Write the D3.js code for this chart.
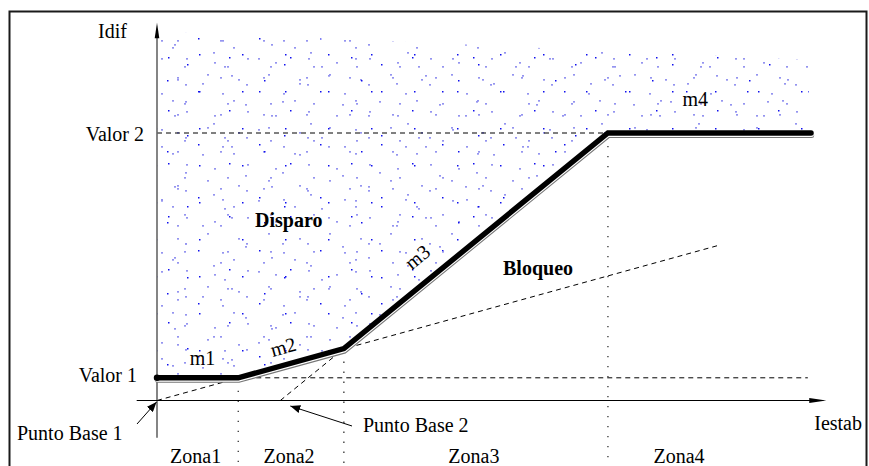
<!DOCTYPE html>
<html>
<head>
<meta charset="utf-8">
<script src="https://cdn.jsdelivr.net/npm/d3@7"></script>
<style>
  body { margin: 0; background: #fff; }
  svg { display: block; }
  text { font-family: "Liberation Serif", "DejaVu Serif", serif; font-size: 20px; fill: #000; }
  .bold { font-weight: bold; }
</style>
</head>
<body>
<svg id="chart" width="869" height="466" font-family="Liberation Serif, DejaVu Serif, serif"></svg>
<script>
// Differential relay characteristic (per-unit values)
const breakX = [0, 1.0, 2.3, 5.55, 8.05];      // Iestab at each breakpoint
const breakY = [0.28, 0.28, 0.64, 3.3, 3.3];    // Idif at each breakpoint
const zoneLabels = ["Zona1", "Zona2", "Zona3", "Zona4"];
const slopeLabels = ["m1", "m2", "m3", "m4"];
const levelLabels = ["Valor 1", "Valor 2"];
const levelValues = [0.28, 3.3];
const baseLabels = ["Punto Base 1", "Punto Base 2"];
const regionLabels = ["Disparo", "Bloqueo"];

const svg = d3.select("#chart");
const x = d3.scaleLinear().domain([0, 8]).range([157, 807]);
const y = d3.scaleLinear().domain([0, 3.3]).range([400.5, 133]);

// ---------- defs: stipple texture (three overlapping tiles of coprime size) + arrow heads ----------
const defs = svg.append("defs");
const tileA = [[3,5,1],[31,9,1],[46,4,0],[24,21,1],[55,26,1],[2,31,1],[15,38,0],[39,40,1],[50,47,1]];
const tileB = [[5,3,1],[27,17,0],[12,29,1]];
const tileC = [[8,12,1],[37,4,1],[70,9,0],[88,30,1],[51,33,1],[19,52,1],[64,58,1],[90,64,0],[30,66,1],[77,44,1]];
function makePattern(id, w, h, dots) {
  const p = defs.append("pattern").attr("id", id).attr("patternUnits", "userSpaceOnUse")
    .attr("width", w).attr("height", h);
  p.selectAll("rect").data(dots).join("rect")
    .attr("x", d => d[0]).attr("y", d => d[1])
    .attr("width", d => d[2] ? 2 : 1.5).attr("height", d => d[2] ? 1.7 : 1.5)
    .attr("fill", d => d[2] ? "#9494f0" : "#1010ee");
}
makePattern("stipA", 61, 53, tileA);
makePattern("stipB", 43, 37, tileB);
makePattern("stipC", 97, 71, tileC);

defs.append("marker").attr("id", "head").attr("viewBox", "0 0 10 8")
  .attr("refX", 10).attr("refY", 4).attr("markerWidth", 10).attr("markerHeight", 8)
  .attr("markerUnits", "userSpaceOnUse").attr("orient", "auto")
  .append("path").attr("d", "M0,0 L10,4 L0,8 Z").attr("fill", "#000");

// ---------- outer frame ----------
svg.append("rect").attr("x", 9.5).attr("y", 11.5).attr("width", 857).attr("height", 480)
  .attr("fill", "none").attr("stroke", "#1a1a1a").attr("stroke-width", 2);

const pts = breakX.map((v, i) => [x(v), y(breakY[i])]);

// ---------- trip region stipple (above the characteristic) ----------
const topEdge = [[x(0) + 1, y(4.55)], [x(3.6), y(4.4)], [x(8.02), y(4.2)]];
const region = topEdge.concat([[x(8.02), y(breakY[4])]])
  .concat(pts.slice().reverse().map(p => [p[0], p[1] - 2]));
defs.append("clipPath").attr("id", "tripClip").append("path")
  .attr("d", d3.line()(region) + "Z");
const stip = svg.append("g").attr("clip-path", "url(#tripClip)");
["stipA", "stipB", "stipC"].forEach(id =>
  stip.append("rect").attr("x", 150).attr("y", 20).attr("width", 670).attr("height", 380)
    .attr("fill", `url(#${id})`));

// ---------- guide lines ----------
const dash = { stroke: "#000", "stroke-width": 1, "stroke-dasharray": "5,4", fill: "none" };
function guide(p0, p1, style) {
  const l = svg.append("line").attr("x1", p0[0]).attr("y1", p0[1]).attr("x2", p1[0]).attr("y2", p1[1]);
  Object.entries(style).forEach(([k, v]) => l.attr(k, v));
  return l;
}
// level lines
guide([x(0), y(levelValues[1])], [x(breakX[3]), y(levelValues[1])], dash);
guide([x(breakX[1]), y(levelValues[0])], [x(8.01), y(levelValues[0])], dash);
// slope m2 extended back to origin (Punto Base 1) and onwards
const m2 = (breakY[2] - breakY[1]) / (breakX[2] - breakX[1]);
guide([x(0), y(0)], [x(6.93), y(m2 * 6.93)], dash);
// slope m3 extended down to the Iestab axis (Punto Base 2)
const m3 = (breakY[3] - breakY[2]) / (breakX[3] - breakX[2]);
const base2 = breakX[2] - breakY[2] / m3;
guide([x(base2), y(0)], [x(breakX[2]), y(breakY[2])], dash);

// zone boundaries (dotted)
const dotted = { stroke: "#333", "stroke-width": 1.3, "stroke-dasharray": "1.3,8.7", fill: "none" };
[1, 2, 3].forEach(i => guide([x(breakX[i]), y(breakY[i]) + 3], [x(breakX[i]), 466], dotted));

// ---------- axes ----------
guide([x(0), y(-0.46)], [x(0), y(4.55)], { stroke: "#666", "stroke-width": 1.6 });
svg.append("path").attr("d", d3.line()([[x(0) - 2.3, y(4.47)], [x(0), y(4.66)], [x(0) + 2.3, y(4.47)]]) + "Z")
  .attr("fill", "#000");
guide([x(-0.25), y(0)], [x(8.2), y(0)], { stroke: "#000", "stroke-width": 1.2 });
svg.append("path").attr("d", d3.line()([[x(8.2) - 14, y(0) - 2.6], [x(8.2) + 3, y(0)], [x(8.2) - 14, y(0) + 2.6]]) + "Z")
  .attr("fill", "#000");

// ---------- characteristic curve (heavy line with offset shadow) ----------
const lineGen = d3.line();
svg.append("path").attr("d", lineGen(pts)).attr("transform", "translate(0.6,2.5)")
  .attr("fill", "none").attr("stroke", "#777").attr("stroke-width", 5)
  .attr("stroke-linecap", "round").attr("stroke-linejoin", "miter");
svg.append("path").attr("d", lineGen(pts)).attr("transform", "translate(0.3,1.4)")
  .attr("fill", "none").attr("stroke", "#fff").attr("stroke-width", 5)
  .attr("stroke-linecap", "round").attr("stroke-linejoin", "miter");
svg.append("path").attr("d", lineGen(pts))
  .attr("fill", "none").attr("stroke", "#000").attr("stroke-width", 5.4)
  .attr("stroke-linecap", "round").attr("stroke-linejoin", "miter");
svg.append("circle").attr("cx", pts[0][0]).attr("cy", pts[0][1]).attr("r", 3.2).attr("fill", "#000");

// ---------- text ----------
function txt(s, px, py, anchor, cls) {
  return svg.append("text").attr("x", px).attr("y", py).attr("text-anchor", anchor || "start")
    .attr("class", cls || null).text(s);
}
txt("Idif", x(0) - 59, 38);
txt(levelLabels[1], x(0) - 13, y(levelValues[1]) + 7.5, "end");
txt(levelLabels[0], x(0) - 20, y(levelValues[0]) + 4, "end");
txt("Iestab", 862, 430, "end");

// zone names centred in each zone
zoneLabels.forEach((s, i) => {
  const cx = i < 3 ? (breakX[i] + breakX[i + 1]) / 2 : breakX[3] + 0.9;
  txt(s, x(cx) - 2, 463, "middle");
});

// slope labels placed along each segment
function segLabel(s, i, t, off) {
  const [p0, p1] = [pts[i], pts[i + 1]];
  const dx = p1[0] - p0[0], dy = p1[1] - p0[1], len = Math.hypot(dx, dy);
  const ux = dx / len, uy = dy / len;
  const px = p0[0] + dx * t + uy * off, py = p0[1] + dy * t - ux * off;
  const ang = Math.atan2(dy, dx) * 180 / Math.PI;
  svg.append("text").attr("text-anchor", "middle")
    .attr("transform", `translate(${px},${py}) rotate(${ang})`).text(s);
}
segLabel(slopeLabels[0], 0, 0.56, 13);
segLabel(slopeLabels[1], 1, 0.47, 11);
segLabel(slopeLabels[2], 2, 0.337, 17.6);
segLabel(slopeLabels[3], 3, 0.43, 27);

txt(regionLabels[0], 255, 227, "start", "bold");
txt(regionLabels[1], 503, 275, "start", "bold");

// base point callouts
txt(baseLabels[0], 17, 440);
guide([137, 424], [x(0) - 0.5, y(0) + 1.5], { stroke: "#000", "stroke-width": 1 }).attr("marker-end", "url(#head)");
txt(baseLabels[1], 363, 432);
guide([352, 426], [x(base2) + 10, y(0) + 5.5], { stroke: "#000", "stroke-width": 1 }).attr("marker-end", "url(#head)");
</script>
</body>
</html>
